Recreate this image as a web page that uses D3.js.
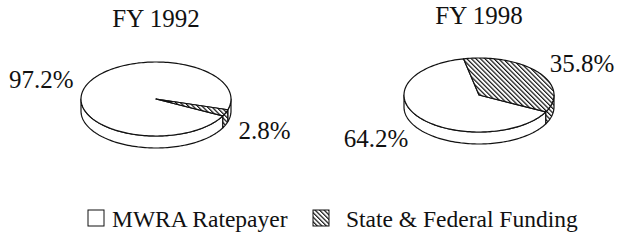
<!DOCTYPE html>
<html>
<head>
<meta charset="utf-8">
<script src="https://cdn.jsdelivr.net/npm/d3@7"></script>
<style>
    body { margin: 0; background: #fff; }
</style>
</head>
<body>
<div id="chart-holder"></div>
<script>
// Funding source split, two fiscal years
var years = ["FY 1992", "FY 1998"];
var categories = ["MWRA Ratepayer", "State & Federal Funding"];
var ratepayer = [97.2, 64.2];
var stateFederal = [2.8, 35.8];
var valueLabels = [["97.2%", "2.8%"], ["64.2%", "35.8%"]];

var width = 619, height = 244,
    rx = 75, ry = 37, depth = 12,
    labelR = 89, labelRy = 52,
    startDeg = 117,
    serif = "'Liberation Serif', 'Times New Roman', Times, serif";

var centers = [[156, 99], [479, 95]];

var svg = d3.select("#chart-holder").append("svg")
    .attr("width", width)
    .attr("height", height);

// hatch for the state & federal slices
svg.append("defs").append("pattern")
    .attr("id", "hatch")
    .attr("patternUnits", "userSpaceOnUse")
    .attr("width", 3.2)
    .attr("height", 3.2)
    .attr("patternTransform", "rotate(-45)")
    .call(function (p) {
        p.append("rect").attr("width", 3.2).attr("height", 3.2).attr("fill", "#fff");
        p.append("line")
            .attr("x1", 0.6).attr("y1", 0).attr("x2", 0.6).attr("y2", 3.2)
            .attr("stroke", "#111").attr("stroke-width", 1.2);
    });

var fills = ["#fff", "url(#hatch)"];

var pie = d3.pie()
    .sort(null)
    .startAngle(startDeg * Math.PI / 180)
    .endAngle((startDeg + 360) * Math.PI / 180);

// point on the flattened ellipse, angle clockwise from 12 o'clock
function pt(cx, cy, a, dy) {
    return [cx + rx * Math.sin(a), cy - ry * Math.cos(a) + (dy || 0)];
}

function arcPath(cx, cy, a0, a1, dy) {
    var n = Math.max(2, Math.ceil(Math.abs(a1 - a0) / 0.03)), pts = [];
    for (var i = 0; i <= n; i++) {
        pts.push(pt(cx, cy, a0 + (a1 - a0) * i / n, dy));
    }
    return pts;
}

function topPath(cx, cy, d) {
    var pts = [[cx, cy]].concat(arcPath(cx, cy, d.startAngle, d.endAngle));
    return "M" + pts.join("L") + "Z";
}

// visible side wall: the front half runs from PI/2 to 3PI/2
function sidePaths(cx, cy, d) {
    var out = [];
    [0, 2 * Math.PI, -2 * Math.PI].forEach(function (k) {
        var a0 = Math.max(d.startAngle + k, Math.PI / 2),
            a1 = Math.min(d.endAngle + k, 3 * Math.PI / 2);
        if (a1 > a0) {
            var upper = arcPath(cx, cy, a0, a1),
                lower = arcPath(cx, cy, a1, a0, depth);
            out.push("M" + upper.concat(lower).join("L") + "Z");
        }
    });
    return out;
}

years.forEach(function (year, i) {
    var cx = centers[i][0], cy = centers[i][1];
    var arcs = pie([ratepayer[i], stateFederal[i]]);
    var g = svg.append("g").attr("class", "pie");

    g.append("text")
        .attr("x", cx)
        .attr("y", 27 - i * 3)
        .attr("text-anchor", "middle")
        .style("font-family", serif)
        .style("font-size", "25px")
        .style("fill", "#111")
        .text(year);

    arcs.forEach(function (d, j) {
        sidePaths(cx, cy, d).forEach(function (p) {
            g.append("path")
                .attr("d", p)
                .attr("fill", fills[j])
                .attr("stroke", "#111")
                .attr("stroke-width", 1.2)
                .attr("stroke-linejoin", "round");
        });
    });

    g.selectAll("path.top")
        .data(arcs)
        .enter().append("path")
        .attr("class", "top")
        .attr("d", function (d) { return topPath(cx, cy, d); })
        .attr("fill", function (d, j) { return fills[j]; })
        .attr("stroke", "#111")
        .attr("stroke-width", 1.2)
        .attr("stroke-linejoin", "round");

    // percentage labels outside the pie
    g.selectAll("text.val")
        .data(arcs)
        .enter().append("text")
        .attr("class", "val")
        .each(function (d, j) {
            var mid = (d.startAngle + d.endAngle) / 2,
                s = Math.sin(mid), c = Math.cos(mid);
            d3.select(this)
                .attr("x", cx + labelR * s)
                .attr("y", cy - labelRy * c + (c < 0 ? depth : 0))
                .attr("dy", "0.35em")
                .attr("text-anchor", s < 0 ? "end" : "start")
                .style("font-family", serif)
                .style("font-size", "25px")
                .style("fill", "#111")
                .text(valueLabels[i][j]);
        });
});

// legend
var legendX = [88, 313];
var legend = svg.append("g").attr("class", "legend");

categories.forEach(function (name, j) {
    legend.append("rect")
        .attr("x", legendX[j])
        .attr("y", 210)
        .attr("width", 16)
        .attr("height", 16)
        .attr("fill", fills[j])
        .attr("stroke", "#111")
        .attr("stroke-width", 1);

    legend.append("text")
        .attr("x", legendX[j] + (j ? 33 : 24))
        .attr("y", 227)
        .style("font-family", serif)
        .style("font-size", "23.5px")
        .style("fill", "#111")
        .text(name);
});
</script>
</body>
</html>
